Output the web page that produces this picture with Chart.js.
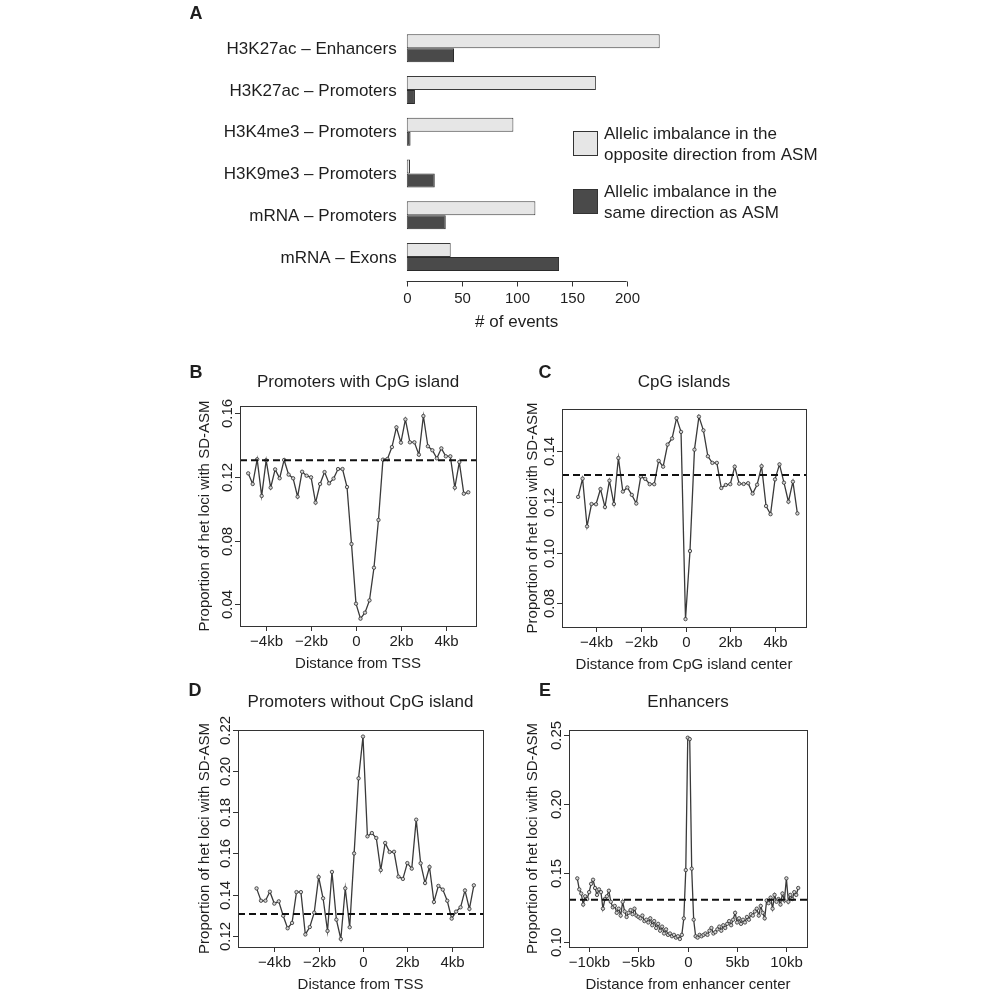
<!DOCTYPE html>
<html>
<head>
<meta charset="utf-8">
<script src="https://cdn.jsdelivr.net/npm/chart.js@4.4.0/dist/chart.umd.min.js"></script>
<style>
  body { margin: 0; background: #fff; }
  #wrap { position: relative; width: 1000px; height: 1000px; }
  canvas { position: absolute; left: 0; top: 0; }
</style>
</head>
<body>
<div id="wrap">
  <canvas id="chartA" width="1000" height="1000"></canvas>
  <canvas id="chartB" width="1000" height="1000"></canvas>
  <canvas id="chartC" width="1000" height="1000"></canvas>
  <canvas id="chartD" width="1000" height="1000"></canvas>
  <canvas id="chartE" width="1000" height="1000"></canvas>
</div>
<script>
// ---- panel A data ----
const categories = ['H3K27ac – Enhancers', 'H3K27ac – Promoters', 'H3K4me3 – Promoters',
                    'H3K9me3 – Promoters', 'mRNA – Promoters', 'mRNA – Exons'];
const oppositeDir = [230, 172, 97, 3, 117, 40];
const sameDir = [43, 7.5, 3.5, 25.5, 35.5, 138.5];
const eventTicks = [0, 50, 100, 150, 200];
const legendLines = [['Allelic imbalance in the', 'opposite direction from ASM'],
                     ['Allelic imbalance in the', 'same direction as ASM']];

// ---- panels B-D data (distance in kb) ----
const distTSS = [-4.8, -4.6, -4.4, -4.2, -4, -3.8, -3.6, -3.4, -3.2, -3, -2.8, -2.6, -2.4, -2.2, -2, -1.8, -1.6,
  -1.4, -1.2, -1, -0.8, -0.6, -0.4, -0.2, 0, 0.2, 0.4, 0.6, 0.8, 1, 1.2, 1.4, 1.6, 1.8, 2, 2.2, 2.4, 2.6, 2.8,
  3, 3.2, 3.4, 3.6, 3.8, 4, 4.2, 4.4, 4.6, 4.8, 5];
const promCpG = [0.1223, 0.1156, 0.1311, 0.1081, 0.1305, 0.1133, 0.1248, 0.1192, 0.1307, 0.1215, 0.1192, 0.1076,
  0.1233, 0.1208, 0.1198, 0.1039, 0.1156, 0.1231, 0.1160, 0.1190, 0.1250, 0.1250, 0.1137, 0.0779, 0.0404, 0.0310,
  0.0348, 0.0425, 0.0630, 0.0930, 0.1309, 0.1313, 0.1388, 0.1512, 0.1416, 0.1562, 0.1418, 0.1418, 0.1340, 0.1583,
  0.1393, 0.1368, 0.1317, 0.1380, 0.1330, 0.1330, 0.1133, 0.1294, 0.1095, 0.1104];
const cpgIslands = [0.1219, 0.1291, 0.1103, 0.1191, 0.1190, 0.1250, 0.1179, 0.1283, 0.1191, 0.1372, 0.1240, 0.1256,
  0.1227, 0.1193, 0.1299, 0.1290, 0.1269, 0.1269, 0.1361, 0.1338, 0.1425, 0.1449, 0.1529, 0.1475, 0.0738, 0.1006,
  0.1405, 0.1535, 0.1481, 0.1379, 0.1353, 0.1353, 0.1254, 0.1266, 0.1269, 0.1338, 0.1271, 0.1270, 0.1273, 0.1232,
  0.1267, 0.1340, 0.1183, 0.1151, 0.1288, 0.1347, 0.1275, 0.1200, 0.1279, 0.1154];
const promNoCpG = [0.1430, 0.1370, 0.1370, 0.1414, 0.1356, 0.1367, 0.1297, 0.1236, 0.1262, 0.1412, 0.1412, 0.1206,
  0.1242, 0.1312, 0.1485, 0.1382, 0.1223, 0.1510, 0.1278, 0.1184, 0.1430, 0.1241, 0.1600, 0.1965, 0.2168, 0.1683,
  0.1699, 0.1675, 0.1519, 0.1651, 0.1607, 0.1608, 0.1487, 0.1476, 0.1553, 0.1526, 0.1764, 0.1552, 0.1456, 0.1534,
  0.1364, 0.1442, 0.1424, 0.1370, 0.1283, 0.1317, 0.1338, 0.1420, 0.1330, 0.1445];

// ---- panel E data ----
const distEnh = [-11.2, -11, -10.8, -10.6, -10.4, -10.2, -10, -9.8, -9.6, -9.4, -9.2, -9, -8.8, -8.6, -8.4, -8.2,
  -8, -7.8, -7.6, -7.4, -7.2, -7, -6.8, -6.6, -6.4, -6.2, -6, -5.8, -5.6, -5.4, -5.2, -5, -4.8, -4.6, -4.4, -4.2,
  -4, -3.8, -3.6, -3.4, -3.2, -3, -2.8, -2.6, -2.4, -2.2, -2, -1.8, -1.6, -1.4, -1.2, -1, -0.8, -0.6, -0.4, -0.2,
  0, 0.2, 0.4, 0.6, 0.8, 1, 1.2, 1.4, 1.6, 1.8, 2, 2.2, 2.4, 2.6, 2.8, 3, 3.2, 3.4, 3.6, 3.8, 4, 4.2, 4.4, 4.6,
  4.8, 5, 5.2, 5.4, 5.6, 5.8, 6, 6.2, 6.4, 6.6, 6.8, 7, 7.2, 7.4, 7.6, 7.8, 8, 8.2, 8.4, 8.6, 8.8, 9, 9.2, 9.4,
  9.6, 9.8, 10, 10.2, 10.4, 10.6, 10.8, 11, 11.2];
const enhancers = [0.146, 0.138, 0.135, 0.127, 0.133, 0.131, 0.136, 0.142, 0.145, 0.139,
  0.134, 0.138, 0.136, 0.124, 0.131, 0.133, 0.137, 0.129, 0.125, 0.126,
  0.121, 0.124, 0.119, 0.129, 0.122, 0.118, 0.121, 0.123, 0.120, 0.124,
  0.119, 0.118, 0.117, 0.119, 0.115, 0.116, 0.114, 0.117, 0.112, 0.115,
  0.110, 0.113, 0.108, 0.111, 0.106, 0.109, 0.105, 0.106, 0.104, 0.105,
  0.103, 0.104, 0.102, 0.105, 0.117, 0.152, 0.248, 0.247, 0.153, 0.116,
  0.104, 0.103, 0.105, 0.104, 0.105, 0.106, 0.105, 0.108, 0.110, 0.106,
  0.107, 0.109, 0.111, 0.108, 0.112, 0.110, 0.113, 0.115, 0.112, 0.116,
  0.121, 0.114, 0.117, 0.113, 0.116, 0.114, 0.118, 0.116, 0.120, 0.119,
  0.122, 0.124, 0.119, 0.126, 0.121, 0.117, 0.130, 0.128, 0.132, 0.124,
  0.134, 0.129, 0.131, 0.127, 0.135, 0.130, 0.146, 0.129, 0.134, 0.131,
  0.136, 0.134, 0.139];

const baseline = 0.1305;
const kbTicks = [-4, -2, 0, 2, 4];
const kbLabels = ['−4kb', '−2kb', '0', '2kb', '4kb'];
const kbTicksE = [-10, -5, 0, 5, 10];
const kbLabelsE = ['−10kb', '−5kb', '0', '5kb', '10kb'];
const yTicksB = [0.04, 0.08, 0.12, 0.16];
const yTicksC = [0.08, 0.10, 0.12, 0.14];
const yTicksD = [0.12, 0.14, 0.16, 0.18, 0.20, 0.22];
const yTicksE = [0.10, 0.15, 0.20, 0.25];
const yTitle = 'Proportion of het loci with SD-ASM';

const FONT = '"Liberation Sans", Arial, sans-serif';
const INK = '#1e1e1e';
const lightFill = '#e6e6e6';
const darkFill = '#4a4a4a';
Chart.defaults.font.family = FONT;
Chart.defaults.animation = false;

// ---------------- Panel A ----------------
const panelADeco = {
  id: 'panelADeco',
  afterDraw(chart) {
    const { ctx, chartArea: a, scales: { x, y } } = chart;
    ctx.save();
    ctx.fillStyle = INK;
    ctx.strokeStyle = '#333';
    ctx.lineWidth = 1;
    ctx.font = '17px ' + FONT;
    ctx.textAlign = 'right';
    ctx.textBaseline = 'middle';
    categories.forEach((c, i) => ctx.fillText(c, a.left - 10, y.getPixelForValue(i) + 1));

    // bottom axis, only over the tick range as R does
    const axisY = Math.round(a.bottom + 3) + 0.5;
    const x0 = x.getPixelForValue(eventTicks[0]);
    const x1 = x.getPixelForValue(eventTicks[eventTicks.length - 1]);
    ctx.beginPath(); ctx.moveTo(x0, axisY); ctx.lineTo(x1, axisY); ctx.stroke();
    ctx.font = '15px ' + FONT;
    ctx.textAlign = 'center';
    eventTicks.forEach(v => {
      const px = Math.round(x.getPixelForValue(v)) + 0.5;
      ctx.beginPath(); ctx.moveTo(px, axisY); ctx.lineTo(px, axisY + 5); ctx.stroke();
      ctx.fillText(String(v), px, axisY + 17);
    });
    ctx.font = '17px ' + FONT;
    ctx.fillText('# of events', x.getPixelForValue(100), axisY + 41);

    // legend
    const ds = chart.data.datasets;
    const boxTops = [131, 189];
    ds.forEach((d, i) => {
      ctx.fillStyle = d.backgroundColor;
      ctx.fillRect(573, boxTops[i], 24, 24);
      ctx.strokeStyle = '#333';
      ctx.strokeRect(573.5, boxTops[i] + 0.5, 24, 24);
      ctx.fillStyle = INK;
      ctx.textAlign = 'left';
      ctx.fillText(legendLines[i][0], 604, boxTops[i] + 3);
      ctx.fillText(legendLines[i][1], 604, boxTops[i] + 24);
    });

    ctx.font = 'bold 18px ' + FONT;
    ctx.textAlign = 'center';
    ctx.fillText('A', 196, 14);
    ctx.restore();
  }
};

new Chart(document.getElementById('chartA'), {
  type: 'bar',
  data: {
    labels: categories,
    datasets: [
      { label: 'Allelic imbalance in the opposite direction from ASM', data: oppositeDir,
        backgroundColor: lightFill, borderColor: '#3a3a3a', borderWidth: 1, borderSkipped: false },
      { label: 'Allelic imbalance in the same direction as ASM', data: sameDir,
        backgroundColor: darkFill, borderColor: '#2a2a2a', borderWidth: 1, borderSkipped: false }
    ]
  },
  options: {
    indexAxis: 'y',
    responsive: false,
    devicePixelRatio: 1,
    categoryPercentage: 0.67,
    barPercentage: 1,
    layout: { autoPadding: false, padding: { left: 406.7, right: 1000 - 670.7, top: 27.4, bottom: 1000 - 277.9 } },
    scales: {
      x: { display: false, min: 0, max: 240 },
      y: { display: false }
    },
    plugins: { legend: { display: false }, tooltip: { enabled: false } }
  },
  plugins: [panelADeco]
});

// ---------------- Panels B-E ----------------
function framePlugin(p) {
  return {
    id: 'frame' + p.letter,
    afterDraw(chart) {
      const { ctx, chartArea: a, scales: { x, y } } = chart;
      ctx.save();
      ctx.strokeStyle = '#333';
      ctx.lineWidth = 1;
      ctx.strokeRect(Math.round(a.left) + 0.5, Math.round(a.top) + 0.5,
                     Math.round(a.right - a.left), Math.round(a.bottom - a.top));
      ctx.fillStyle = INK;
      ctx.font = '15px ' + FONT;
      ctx.textAlign = 'center';
      ctx.textBaseline = 'middle';
      p.xTicks.forEach((v, i) => {
        const px = Math.round(x.getPixelForValue(v)) + 0.5;
        ctx.beginPath(); ctx.moveTo(px, a.bottom); ctx.lineTo(px, a.bottom + 5); ctx.stroke();
        ctx.fillText(p.xLabels[i], px, a.bottom + 16);
      });
      p.yTicks.forEach(v => {
        const py = Math.round(y.getPixelForValue(v)) + 0.5;
        ctx.beginPath(); ctx.moveTo(a.left, py); ctx.lineTo(a.left - 5, py); ctx.stroke();
        ctx.save();
        ctx.translate(a.left - 12, py);
        ctx.rotate(-Math.PI / 2);
        ctx.fillText(v.toFixed(2), 0, 0);
        ctx.restore();
      });
      ctx.fillText(p.xTitle, (a.left + a.right) / 2, a.bottom + 38);
      ctx.save();
      ctx.translate(p.yTitleX, (a.top + a.bottom) / 2);
      ctx.rotate(-Math.PI / 2);
      ctx.fillText(yTitle, 0, 0);
      ctx.restore();

      ctx.font = '17px ' + FONT;
      ctx.fillText(p.title, (a.left + a.right) / 2, p.titleY);
      ctx.font = 'bold 18px ' + FONT;
      ctx.fillText(p.letter, p.letterPos[0], p.letterPos[1]);
      ctx.restore();
    }
  };
}

function linePanel(id, dist, values, p) {
  new Chart(document.getElementById(id), {
    type: 'line',
    data: {
      datasets: [
        { data: [{ x: p.xMin, y: baseline }, { x: p.xMax, y: baseline }],
          borderColor: '#111', borderWidth: 2, borderDash: [7, 4], pointRadius: 0 },
        { data: dist.map((d, i) => ({ x: d, y: values[i] })),
          borderColor: '#3a3a3a', borderWidth: 1.3, tension: 0,
          pointRadius: 1.7, pointBorderWidth: 0.8,
          pointBorderColor: '#2e2e2e', pointBackgroundColor: '#d2d2d2' }
      ]
    },
    options: {
      responsive: false,
      devicePixelRatio: 1,
      layout: { autoPadding: false,
        padding: { left: p.box[0], top: p.box[1], right: 1000 - p.box[2], bottom: 1000 - p.box[3] } },
      scales: {
        x: { type: 'linear', display: false, min: p.xMin, max: p.xMax },
        y: { display: false, min: p.yMin, max: p.yMax }
      },
      plugins: { legend: { display: false }, tooltip: { enabled: false } }
    },
    plugins: [framePlugin(p)]
  });
}

linePanel('chartB', distTSS, promCpG, {
  letter: 'B', letterPos: [196, 373], title: 'Promoters with CpG island', titleY: 382,
  xTitle: 'Distance from TSS', yTitleX: 205,
  box: [240, 406, 476, 626], xMin: -5.165, xMax: 5.343, yMin: 0.0264, yMax: 0.1646,
  xTicks: kbTicks, xLabels: kbLabels, yTicks: yTicksB
});
linePanel('chartC', distTSS, cpgIslands, {
  letter: 'C', letterPos: [545, 373], title: 'CpG islands', titleY: 382,
  xTitle: 'Distance from CpG island center', yTitleX: 533,
  box: [562, 409, 806, 627], xMin: -5.52, xMax: 5.385, yMin: 0.0707, yMax: 0.1565,
  xTicks: kbTicks, xLabels: kbLabels, yTicks: yTicksC
});
linePanel('chartD', distTSS, promNoCpG, {
  letter: 'D', letterPos: [195, 691], title: 'Promoters without CpG island', titleY: 702,
  xTitle: 'Distance from TSS', yTitleX: 205,
  box: [238, 730, 483, 947], xMin: -5.638, xMax: 5.413, yMin: 0.1145, yMax: 0.2200,
  xTicks: kbTicks, xLabels: kbLabels, yTicks: yTicksD
});
linePanel('chartE', distEnh, enhancers, {
  letter: 'E', letterPos: [545, 691], title: 'Enhancers', titleY: 702,
  xTitle: 'Distance from enhancer center', yTitleX: 533,
  box: [569, 730, 807, 947], xMin: -12.04, xMax: 12.09, yMin: 0.0962, yMax: 0.2536,
  xTicks: kbTicksE, xLabels: kbLabelsE, yTicks: yTicksE
});
</script>
</body>
</html>
